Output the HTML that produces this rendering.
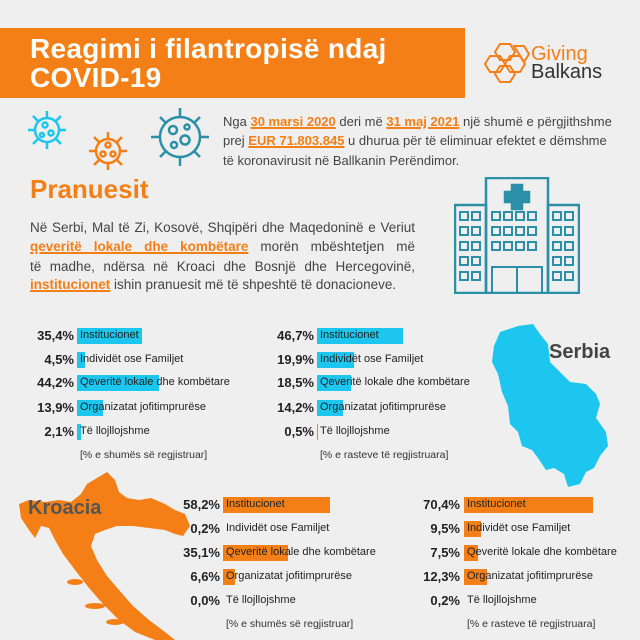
<!DOCTYPE html>
<html><head><meta charset="utf-8"><style>
body{margin:0;width:640px;height:640px;overflow:hidden;background:#efefef;font-family:"Liberation Sans",sans-serif;position:relative;color:#3a3a3a}
.a{position:absolute;white-space:nowrap}
.hdr{position:absolute;left:0;top:28px;width:465px;height:70px;background:#f57f17}
.t{color:#fff;font-weight:bold;font-size:28px;left:30px;letter-spacing:0.3px}
.p{font-size:13px;color:#444}
.j{font-size:13.5px;color:#444;width:385px;text-align:justify;text-align-last:justify;white-space:normal}
.u{color:#f57f17;font-weight:bold;text-decoration:underline;text-decoration-thickness:2px}
.pc{font-weight:bold;font-size:13px;color:#222;text-align:right;width:60px}
.bar{position:absolute;height:16px}
.lb{font-size:11px;color:#222}
.ft{font-size:10.5px;color:#333}
</style></head><body>
<div class="hdr"></div>
<div class="a t" style="top:33px">Reagimi i filantropisë ndaj</div>
<div class="a t" style="top:62px">COVID-19</div>

<svg class="a" style="left:484px;top:42px" width="46" height="42" viewBox="0 0 46 42" fill="none" stroke="#f57f17" stroke-width="2">
<polygon points="16,2 26,2 31,10 26,18 16,18 11,10"/><polygon points="6,14 16,14 21,22 16,30 6,30 1,22"/><polygon points="26,14 36,14 41,22 36,30 26,30 21,22"/><polygon points="16,24 26,24 31,32 26,40 16,40 11,32"/><polygon points="30,4 40,4 45,12 40,20"/></svg>
<div class="a" style="left:531px;top:43px;font-size:20px;color:#f57f17">Giving</div>
<div class="a" style="left:531px;top:61px;font-size:20px;color:#333">Balkans</div>

<svg class="a" style="left:25px;top:105px" width="195" height="72" viewBox="0 0 195 72" fill="none" stroke-width="2.5">
<g stroke="#1cc6ef"><circle cx="22" cy="25" r="12"/><circle cx="20" cy="20" r="2.5"/><circle cx="26" cy="28" r="2.5"/><circle cx="17" cy="30" r="2"/>
<path d="M22 13V6M22 37v7M10 25H3M34 25h7M13 16l-5-5M31 34l5 5M31 16l5-5M13 34l-5 5"/></g>
<g stroke="#f57f17"><circle cx="83" cy="46" r="12"/><circle cx="83" cy="40" r="2.5"/><circle cx="78" cy="49" r="2.5"/><circle cx="88" cy="49" r="2.5"/>
<path d="M83 34v-7M83 58v7M71 46h-7M95 46h7M74 37l-5-5M92 55l5 5M92 37l5-5M74 55l-5 5"/></g>
<g stroke="#2b8fa8"><circle cx="155" cy="32" r="20"/><circle cx="148" cy="25" r="4"/><circle cx="160" cy="35" r="4.5"/><circle cx="149" cy="40" r="3"/><circle cx="162" cy="22" r="2.5"/>
<path d="M155 12V3M155 52v9M135 32h-9M175 32h9M141 18l-6-6M169 46l6 6M169 18l6-6M141 46l-6 6"/></g></svg>

<div class="a p" style="left:223px;top:114px">Nga <span class="u">30 marsi 2020</span> deri më <span class="u">31 maj 2021</span> një shumë e përgjithshme</div>
<div class="a p" style="left:223px;top:133px">prej <span class="u">EUR 71.803.845</span> u dhurua për të eliminuar efektet e dëmshme</div>
<div class="a p" style="left:223px;top:153px">të koronavirusit në Ballkanin Perëndimor.</div>

<div class="a" style="left:30px;top:174px;font-size:26px;font-weight:bold;color:#f57f17">Pranuesit</div>
<div class="a j" style="left:30px;top:220px">Në Serbi, Mal të Zi, Kosovë, Shqipëri dhe Maqedoninë e Veriut</div>
<div class="a j" style="left:30px;top:239px"><span class="u">qeveritë lokale dhe kombëtare</span> morën mbështetjen më</div>
<div class="a j" style="left:30px;top:259px">të madhe, ndërsa në Kroaci dhe Bosnjë dhe Hercegovinë,</div>
<div class="a p" style="left:30px;top:277px;font-size:13.5px"><span class="u">institucionet</span> ishin pranuesit më të shpeshtë të donacioneve.</div>

<svg class="a" style="left:454px;top:177px" width="126" height="117" viewBox="0 0 126 117" fill="none" stroke="#2b8fa8" stroke-width="2.5">
<rect x="32" y="1" width="62" height="115"/><rect x="1" y="28" width="31" height="88"/><rect x="94" y="28" width="31" height="88"/>
<path d="M58 8h10v7h7v10h-7v7H58v-7h-7V15h7z" fill="#2b8fa8"/>
<g stroke-width="2"><rect x="38" y="90" width="50" height="26"/><path d="M63 90v26"/></g>
<g stroke-width="2">
<rect x="6" y="35" width="8" height="8"/><rect x="18" y="35" width="8" height="8"/>
<rect x="6" y="50" width="8" height="8"/><rect x="18" y="50" width="8" height="8"/>
<rect x="6" y="65" width="8" height="8"/><rect x="18" y="65" width="8" height="8"/>
<rect x="6" y="80" width="8" height="8"/><rect x="18" y="80" width="8" height="8"/>
<rect x="6" y="95" width="8" height="8"/><rect x="18" y="95" width="8" height="8"/>
<rect x="99" y="35" width="8" height="8"/><rect x="111" y="35" width="8" height="8"/>
<rect x="99" y="50" width="8" height="8"/><rect x="111" y="50" width="8" height="8"/>
<rect x="99" y="65" width="8" height="8"/><rect x="111" y="65" width="8" height="8"/>
<rect x="99" y="80" width="8" height="8"/><rect x="111" y="80" width="8" height="8"/>
<rect x="99" y="95" width="8" height="8"/><rect x="111" y="95" width="8" height="8"/>
<rect x="38" y="35" width="8" height="8"/><rect x="50" y="35" width="8" height="8"/><rect x="62" y="35" width="8" height="8"/><rect x="74" y="35" width="8" height="8"/>
<rect x="38" y="50" width="8" height="8"/><rect x="50" y="50" width="8" height="8"/><rect x="62" y="50" width="8" height="8"/><rect x="74" y="50" width="8" height="8"/>
<rect x="38" y="65" width="8" height="8"/><rect x="50" y="65" width="8" height="8"/><rect x="62" y="65" width="8" height="8"/><rect x="74" y="65" width="8" height="8"/>
</g></svg>

<svg class="a" style="left:488px;top:322px" width="128" height="166" viewBox="0 0 128 166">
<path fill="#1cc6ef" d="M12 10 L30 4 L45 2 L52 12 L60 22 L62 40 L72 50 L82 60 L98 62 L108 72 L112 82 L108 96 L118 110 L120 124 L112 134 L106 146 L98 150 L92 162 L80 165 L76 152 L66 146 L58 148 L50 136 L44 128 L34 124 L30 110 L22 102 L20 84 L14 70 L10 52 L4 40 L6 24 Z"/></svg>
<div class="a" style="left:549px;top:341px;font-size:20px;font-weight:bold;color:#444">Serbia</div>

<svg class="a" style="left:15px;top:470px" width="180" height="170" viewBox="0 0 180 170">
<path fill="#f57f17" d="M82 8 L92 2 L100 10 L104 22 L112 28 L124 30 L136 28 L150 34 L160 40 L170 44 L175 56 L168 66 L160 64 L150 60 L134 58 L118 56 L102 56 L90 60 L80 64 L76 76 L82 90 L92 106 L104 120 L118 136 L134 150 L150 162 L160 170 L140 170 L120 162 L104 150 L88 134 L74 118 L60 100 L48 84 L40 70 L34 58 L26 56 L20 68 L14 60 L6 48 L4 34 L14 30 L30 32 L44 30 L56 32 L66 24 L72 14 Z"/>
<ellipse cx="60" cy="112" rx="8" ry="3" fill="#f57f17"/><ellipse cx="80" cy="136" rx="10" ry="3" fill="#f57f17"/><ellipse cx="100" cy="152" rx="9" ry="3" fill="#f57f17"/></svg>
<div class="a" style="left:28px;top:497px;font-size:20px;font-weight:bold;color:#555">Kroacia</div>

<div class="a pc" style="left:14px;top:328px">35,4%</div><div class="bar" style="left:77px;top:328px;width:65px;background:#1cc6ef"></div><div class="a lb" style="left:80px;top:329px">Institucionet</div>
<div class="a pc" style="left:14px;top:352px">4,5%</div><div class="bar" style="left:77px;top:352px;width:8px;background:#1cc6ef"></div><div class="a lb" style="left:80px;top:353px">Individët ose Familjet</div>
<div class="a pc" style="left:14px;top:375px">44,2%</div><div class="bar" style="left:77px;top:375px;width:82px;background:#1cc6ef"></div><div class="a lb" style="left:80px;top:376px">Qeveritë lokale dhe kombëtare</div>
<div class="a pc" style="left:14px;top:400px">13,9%</div><div class="bar" style="left:77px;top:400px;width:26px;background:#1cc6ef"></div><div class="a lb" style="left:80px;top:401px">Organizatat jofitimprurëse</div>
<div class="a pc" style="left:14px;top:424px">2,1%</div><div class="bar" style="left:77px;top:424px;width:4px;background:#1cc6ef"></div><div class="a lb" style="left:80px;top:425px">Të llojllojshme</div>
<div class="a ft" style="left:80px;top:449px">[% e shumës së regjistruar]</div>

<div class="a pc" style="left:254px;top:328px">46,7%</div><div class="bar" style="left:317px;top:328px;width:86px;background:#1cc6ef"></div><div class="a lb" style="left:320px;top:329px">Institucionet</div>
<div class="a pc" style="left:254px;top:352px">19,9%</div><div class="bar" style="left:317px;top:352px;width:37px;background:#1cc6ef"></div><div class="a lb" style="left:320px;top:353px">Individët ose Familjet</div>
<div class="a pc" style="left:254px;top:375px">18,5%</div><div class="bar" style="left:317px;top:375px;width:34px;background:#1cc6ef"></div><div class="a lb" style="left:320px;top:376px">Qeveritë lokale dhe kombëtare</div>
<div class="a pc" style="left:254px;top:400px">14,2%</div><div class="bar" style="left:317px;top:400px;width:26px;background:#1cc6ef"></div><div class="a lb" style="left:320px;top:401px">Organizatat jofitimprurëse</div>
<div class="a pc" style="left:254px;top:424px">0,5%</div><div class="bar" style="left:317px;top:424px;width:1px;background:#1cc6ef"></div><div class="a lb" style="left:320px;top:425px">Të llojllojshme</div>
<div class="a ft" style="left:320px;top:449px">[% e rasteve të regjistruara]</div>

<div class="a pc" style="left:160px;top:497px">58,2%</div><div class="bar" style="left:223px;top:497px;width:107px;background:#f57f17"></div><div class="a lb" style="left:226px;top:498px">Institucionet</div>
<div class="a pc" style="left:160px;top:521px">0,2%</div><div class="a lb" style="left:226px;top:522px">Individët ose Familjet</div>
<div class="a pc" style="left:160px;top:545px">35,1%</div><div class="bar" style="left:223px;top:545px;width:65px;background:#f57f17"></div><div class="a lb" style="left:226px;top:546px">Qeveritë lokale dhe kombëtare</div>
<div class="a pc" style="left:160px;top:569px">6,6%</div><div class="bar" style="left:223px;top:569px;width:12px;background:#f57f17"></div><div class="a lb" style="left:226px;top:570px">Organizatat jofitimprurëse</div>
<div class="a pc" style="left:160px;top:593px">0,0%</div><div class="a lb" style="left:226px;top:594px">Të llojllojshme</div>
<div class="a ft" style="left:226px;top:618px">[% e shumës së regjistruar]</div>

<div class="a pc" style="left:400px;top:497px">70,4%</div><div class="bar" style="left:464px;top:497px;width:129px;background:#f57f17"></div><div class="a lb" style="left:467px;top:498px">Institucionet</div>
<div class="a pc" style="left:400px;top:521px">9,5%</div><div class="bar" style="left:464px;top:521px;width:17px;background:#f57f17"></div><div class="a lb" style="left:467px;top:522px">Individët ose Familjet</div>
<div class="a pc" style="left:400px;top:545px">7,5%</div><div class="bar" style="left:464px;top:545px;width:14px;background:#f57f17"></div><div class="a lb" style="left:467px;top:546px">Qeveritë lokale dhe kombëtare</div>
<div class="a pc" style="left:400px;top:569px">12,3%</div><div class="bar" style="left:464px;top:569px;width:23px;background:#f57f17"></div><div class="a lb" style="left:467px;top:570px">Organizatat jofitimprurëse</div>
<div class="a pc" style="left:400px;top:593px">0,2%</div><div class="a lb" style="left:467px;top:594px">Të llojllojshme</div>
<div class="a ft" style="left:467px;top:618px">[% e rasteve të regjistruara]</div>
</body></html>
